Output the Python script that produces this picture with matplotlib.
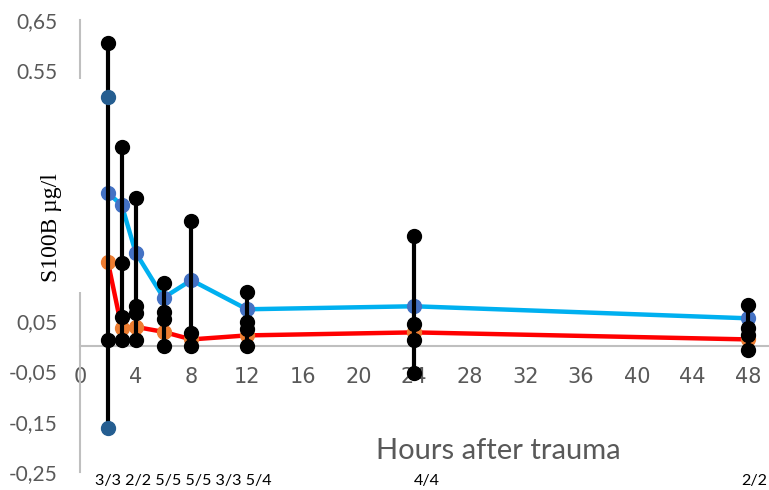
import matplotlib
matplotlib.use("Agg")
import matplotlib.pyplot as plt
from matplotlib import ticker
from matplotlib.patches import Rectangle

# sampling times (hours after trauma)
hours = [2, 3, 4, 6, 8, 12, 24, 48]

# mean (blue line) and median (red line) S100B, ug/l
mean_s100b = [0.306, 0.281, 0.187, 0.097, 0.132, 0.074, 0.080, 0.056]
median_s100b = [0.169, 0.036, 0.039, 0.029, 0.014, 0.022, 0.028, 0.014]

# individual patient values per time point (black dots)
patient_values = [
    [0.604, 0.012],
    [0.397, 0.167, 0.058, 0.012],
    [0.296, 0.080, 0.066, 0.012],
    [0.127, 0.068, 0.054, 0.000],
    [0.249, 0.026, 0.000],
    [0.109, 0.048, 0.034, 0.000],
    [0.219, 0.044, 0.012, -0.052],
    [0.082, 0.036, 0.022, -0.008],
]

# extra spread markers at 2 h (dark blue)
spread_hour = [2, 2]
spread_values = [0.497, -0.163]

# n per time point, written under the axis
n_labels_early = "3/3 2/2 5/5 5/5 3/3 5/4"
n_label_24 = "4/4"
n_label_48 = "2/2"

yticks = [-0.25, -0.15, -0.05, 0.05, 0.15, 0.25, 0.35, 0.45, 0.55, 0.65]
hidden_yticks = [0.15, 0.25, 0.35, 0.45]  # sit under the y label box
xticks = list(range(0, 49, 4))

grey_text = "#595959"
grey_axis = "#BFBFBF"
font = "Lato"

fig = plt.figure(figsize=(7.69, 4.90), dpi=100)
ax = fig.add_axes([80 / 769, 18 / 490, 689 / 769, 452 / 490])

ax.plot(hours, mean_s100b, color="#00B0F0", lw=3.2, zorder=2,
        marker="o", ms=10, mfc="#4472C4", mec="#4472C4")
ax.plot(hours, median_s100b, color="#FF0000", lw=3.2, zorder=2,
        marker="o", ms=10, mfc="#ED7D31", mec="#ED7D31")

for h, vals in zip(hours, patient_values):
    lo = min(vals)
    hi = max(vals)
    if h in spread_hour:
        lo = min(lo, min(spread_values))
    ax.plot([h, h], [lo, hi], color="black", lw=3, zorder=3)
    ax.plot([h] * len(vals), vals, "o", color="black", ms=10, zorder=3)

ax.plot(spread_hour, spread_values, "o", color="#255E91", ms=10, zorder=4)

ax.set_xlim(0, 49.5)
ax.set_ylim(-0.25, 0.65)
ax.set_xticks(xticks)
ax.set_yticks(yticks)
ax.yaxis.set_major_formatter(ticker.FuncFormatter(
    lambda v, p: "" if any(abs(v - t) < 1e-9 for t in hidden_yticks)
    else ("%.2f" % v).replace(".", ",")))
ax.tick_params(length=0, labelsize=15, labelcolor=grey_text)
ax.tick_params(axis="y", pad=16)
ax.tick_params(axis="x", pad=15)
for lab in ax.get_xticklabels() + ax.get_yticklabels():
    lab.set_fontfamily(font)

for s in ["top", "right"]:
    ax.spines[s].set_visible(False)
ax.spines["bottom"].set_position(("data", 0))
ax.spines["bottom"].set_color(grey_axis)
ax.spines["left"].set_color(grey_axis)
ax.spines["bottom"].set_linewidth(1.5)
ax.spines["left"].set_linewidth(1.5)

# white block behind the y label hides the middle of the y axis
fig.patches.append(Rectangle((0, 1 - 292 / 490), 88 / 769, 213 / 490,
                             transform=fig.transFigure, facecolor="white",
                             edgecolor="none", zorder=5))

fig.text(51 / 769, 1 - 228 / 490, "S100B µg/l", rotation=90,
         ha="center", va="center", fontsize=17,
         family="Liberation Serif", zorder=6)
fig.text(498 / 769, 1 - 451 / 490, "Hours after trauma", ha="center",
         va="center", fontsize=21, color=grey_text, family=font)
fig.text(95 / 769, 1 - 481 / 490, n_labels_early, ha="left", va="center",
         fontsize=11.6, family=font)
fig.text(427 / 769, 1 - 481 / 490, n_label_24, ha="center", va="center",
         fontsize=11.6, family=font)
fig.text(767 / 769, 1 - 481 / 490, n_label_48, ha="right", va="center",
         fontsize=11.6, family=font)

fig.savefig("out.png", dpi=100)
